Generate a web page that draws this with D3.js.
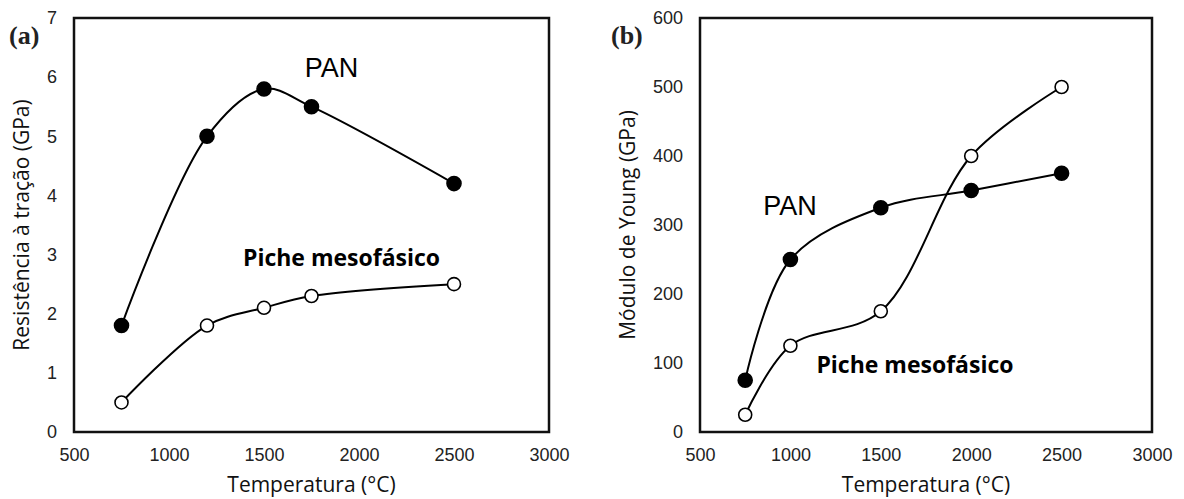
<!DOCTYPE html>
<html lang="pt">
<head>
<meta charset="UTF-8">
<script src="https://d3js.org/d3.v7.min.js"></script>
<title>Fibras de carbono: PAN x piche mesofásico</title>
<style>
    body { margin: 0; background: #fff; }
    svg text { font-family: "Liberation Sans", Arial, sans-serif; }
    .tick text { fill: #222; font-size: 18px; }
    .axis-title { font-family: "Open Sans", sans-serif !important; font-size: 21px; fill: #111; }
    .tag { font-family: "Liberation Serif", "Times New Roman", serif !important; font-weight: bold; font-size: 26px; fill: #222; }
    .pan-label { font-size: 27px; }
    .pitch-label { font-family: "Open Sans", sans-serif !important; font-weight: bold; font-size: 23px; }
</style>
</head>
<body>
<svg id="chart" width="1184" height="499"></svg>
<script>
// panel (a) - tensile strength (GPa)
const tempA = [750, 1200, 1500, 1750, 2500];
const panTensile = [1.8, 5.0, 5.8, 5.5, 4.2];
const pitchTensile = [0.5, 1.8, 2.1, 2.3, 2.5];

// panel (b) - Young's modulus (GPa)
const tempB = [750, 1000, 1500, 2000, 2500];
const panModulus = [75, 250, 325, 350, 375];
const pitchModulus = [25, 125, 175, 400, 500];

const xTicks = [500, 1000, 1500, 2000, 2500, 3000];
const yTicksA = [0, 1, 2, 3, 4, 5, 6, 7];
const yTicksB = [0, 100, 200, 300, 400, 500, 600];

const svg = d3.select("#chart");

function drawPanel(cfg) {
    const x = d3.scaleLinear().domain([500, 3000]).range([cfg.left, cfg.right]);
    const y = d3.scaleLinear().domain(cfg.yDomain).range([cfg.bottom, cfg.top]);
    const g = svg.append("g");

    // axes (labels only, no tick marks)
    const xAxis = g.append("g")
        .attr("transform", `translate(0,${cfg.bottom})`)
        .call(d3.axisBottom(x).tickValues(xTicks).tickSize(0).tickPadding(16).tickFormat(d3.format("d")));
    const yAxis = g.append("g")
        .attr("transform", `translate(${cfg.left},0)`)
        .call(d3.axisLeft(y).tickValues(cfg.yTicks).tickSize(0).tickPadding(17).tickFormat(d3.format("d")));
    xAxis.select(".domain").remove();
    yAxis.select(".domain").remove();
    g.selectAll(".tick text").attr("font-family", null);

    // plot frame
    g.append("rect")
        .attr("x", cfg.left).attr("y", cfg.top)
        .attr("width", cfg.right - cfg.left).attr("height", cfg.bottom - cfg.top)
        .attr("fill", "none").attr("stroke", "#111").attr("stroke-width", 2.5);

    const line = d3.line()
        .x(d => x(d[0])).y(d => y(d[1]))
        .curve(d3.curveCatmullRom.alpha(0.5));

    cfg.series.forEach(s => {
        const pts = cfg.temps.map((t, i) => [t, s.values[i]]);
        g.append("path")
            .attr("d", line(pts))
            .attr("fill", "none").attr("stroke", "#000").attr("stroke-width", 2);
        g.selectAll(null).data(pts).enter().append("circle")
            .attr("cx", d => x(d[0])).attr("cy", d => y(d[1]))
            .attr("r", s.filled ? 7 : 6.5)
            .attr("fill", s.filled ? "#000" : "#fff")
            .attr("stroke", "#000").attr("stroke-width", 1.6);
    });

    // annotations
    g.append("text").attr("class", "pan-label")
        .attr("x", x(cfg.panAt[0])).attr("y", y(cfg.panAt[1]))
        .attr("text-anchor", "middle").text("PAN");
    g.append("text").attr("class", "pitch-label")
        .attr("x", x(cfg.pitchAt[0])).attr("y", y(cfg.pitchAt[1]))
        .attr("text-anchor", "middle").text("Piche mesofásico");

    // titles
    g.append("text").attr("class", "axis-title")
        .attr("x", (cfg.left + cfg.right) / 2).attr("y", 492)
        .attr("text-anchor", "middle").text("Temperatura (°C)");
    g.append("text").attr("class", "axis-title")
        .attr("transform", `translate(${cfg.left - cfg.titleGap},${(cfg.top + cfg.bottom) / 2}) rotate(-90)`)
        .attr("text-anchor", "middle").text(cfg.yTitle);
    g.append("text").attr("class", "tag")
        .attr("x", cfg.left - cfg.tagGap).attr("y", 44).text(cfg.tag);
}

drawPanel({
    left: 74, right: 549, top: 18, bottom: 432,
    yDomain: [0, 7], yTicks: yTicksA, temps: tempA,
    series: [
        { values: panTensile, filled: true },
        { values: pitchTensile, filled: false }
    ],
    panAt: [1855, 6.0], pitchAt: [1908, 2.81],
    yTitle: "Resistência à tração (GPa)", tag: "(a)", titleGap: 45, tagGap: 65
});

drawPanel({
    left: 700, right: 1152, top: 18, bottom: 432,
    yDomain: [0, 600], yTicks: yTicksB, temps: tempB,
    series: [
        { values: panModulus, filled: true },
        { values: pitchModulus, filled: false }
    ],
    panAt: [998, 314], pitchAt: [1689, 86],
    yTitle: "Módulo de Young (GPa)", tag: "(b)", titleGap: 65, tagGap: 89
});
</script>
</body>
</html>
